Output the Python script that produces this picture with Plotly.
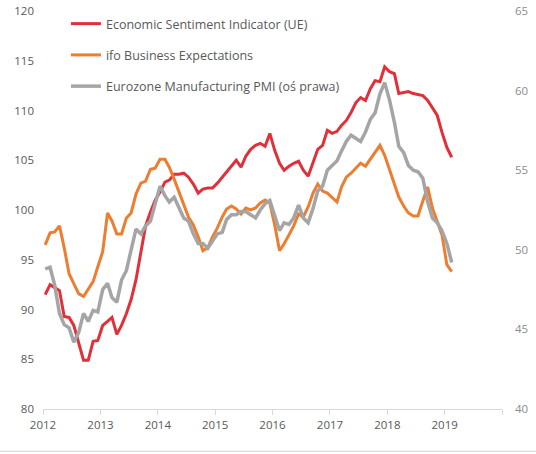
import pandas as pd
import plotly.graph_objects as go

# monthly data, Jan 2012 - Feb 2019
months = pd.date_range("2012-01-01", periods=86, freq="MS") + pd.Timedelta(days=14)

esi = [91.5, 92.5, 92.2, 91.9, 89.3, 89.2, 88.4, 86.5, 84.9, 84.9, 86.8, 86.9,
       88.4, 88.8, 89.2, 87.5, 88.4, 89.6, 91.0, 93.0, 95.8, 98.4, 99.8, 101.0,
       101.8, 102.8, 103.0, 103.6, 103.6, 103.7, 103.3, 102.6, 101.7, 102.1, 102.2, 102.2,
       102.7, 103.3, 103.9, 104.4, 105.0, 104.3, 105.4, 106.1, 106.5, 106.7, 106.4, 107.7,
       106.0, 104.7, 104.0, 104.4, 104.7, 104.9, 104.0, 103.4, 104.7, 106.1, 106.5, 108.0,
       107.7, 107.9, 108.5, 109.0, 109.8, 110.8, 111.3, 111.0, 112.2, 113.0, 112.9, 114.4,
       113.9, 113.7, 111.7, 111.8, 111.9, 111.7, 111.6, 111.5, 111.0, 110.3, 109.5, 107.8,
       106.3, 105.3]

ifo = [96.5, 97.7, 97.8, 98.4, 96.2, 93.6, 92.6, 91.6, 91.3, 92.1, 92.8, 94.3,
       95.8, 99.7, 98.9, 97.6, 97.6, 99.2, 99.7, 101.6, 102.7, 102.9, 104.1, 104.2,
       105.1, 105.1, 104.3, 103.1, 101.8, 100.6, 99.3, 98.5, 97.3, 95.9, 96.2, 97.3,
       98.2, 99.3, 100.1, 100.4, 100.1, 99.6, 100.2, 100.0, 100.2, 100.7, 101.0, 100.7,
       98.5, 95.9, 96.6, 97.5, 98.4, 99.6, 99.3, 100.3, 101.7, 102.6, 101.9, 101.7,
       101.2, 100.8, 102.3, 103.3, 103.7, 104.2, 104.7, 104.4, 105.1, 105.9, 106.5, 105.5,
       104.0, 102.5, 101.3, 100.4, 99.7, 99.4, 99.4, 100.9, 102.3, 100.2, 98.8, 97.5,
       94.5, 93.8]

pmi = [48.8, 48.9, 47.8, 46.0, 45.3, 45.1, 44.2, 44.8, 46.0, 45.5, 46.2, 46.1,
       47.5, 47.9, 47.0, 46.7, 48.1, 48.7, 50.0, 51.3, 51.0, 51.5, 51.8, 52.8,
       54.0, 53.4, 53.0, 53.3, 52.7, 52.0, 51.8, 51.0, 50.4, 50.4, 50.1, 50.5,
       51.0, 51.1, 51.9, 52.2, 52.2, 52.4, 52.4, 52.2, 52.0, 52.5, 52.9, 53.1,
       52.2, 51.2, 51.7, 51.6, 52.0, 52.8, 52.0, 51.7, 52.6, 53.7, 54.0, 55.0,
       55.3, 55.6, 56.2, 56.8, 57.2, 57.0, 56.8, 57.4, 58.2, 58.6, 59.8, 60.5,
       59.4, 58.0, 56.5, 56.1, 55.3, 55.0, 54.9, 54.5, 53.0, 52.0, 51.7, 51.2,
       50.4, 49.2]

years = [str(y) for y in range(2012, 2021)]
year_labels = years[:-1] + [""]

RED = "#E0303A"
ORANGE = "#ED7D31"
GRAY = "#A5A5A5"
FONT = "Open Sans"

fig = go.Figure()
fig.add_trace(go.Scatter(x=months, y=esi, name="Economic Sentiment Indicator (UE)",
                         mode="lines", line={"color": RED, "width": 3}, legendgroup="a"))
fig.add_trace(go.Scatter(x=months, y=ifo, name="ifo Business Expectations",
                         mode="lines", line={"color": ORANGE, "width": 3}, legendgroup="b"))
fig.add_trace(go.Scatter(x=months, y=pmi, name="Eurozone Manufacturing PMI (oś prawa)",
                         mode="lines", line={"color": GRAY, "width": 3.5}, legendgroup="c",
                         yaxis="y2"))

fig.update_layout(
    width=536, height=454,
    margin={"l": 43, "r": 34, "t": 11, "b": 45, "autoexpand": False},
    paper_bgcolor="white", plot_bgcolor="white",
    font={"family": FONT, "color": "#595959", "size": 11.5},
    showlegend=True,
    legend={"x": 0.05, "y": 1.005, "xanchor": "left", "yanchor": "top",
            "bgcolor": "rgba(0,0,0,0)", "font": {"size": 12.5, "color": "#595959"},
            "tracegroupgap": 12, "itemwidth": 30},
    xaxis={"type": "date", "range": ["2012-01-01", "2020-01-01"], "automargin": False,
           "tickvals": [y + "-01-01" for y in years], "ticktext": year_labels,
           "showgrid": False, "showline": True, "linecolor": "#D9D9D9", "linewidth": 1,
           "ticks": "outside", "ticklen": 5, "tickcolor": "#D9D9D9", "zeroline": False},
    yaxis={"range": [80, 120], "dtick": 5, "showgrid": False, "zeroline": False,
           "showline": False, "ticks": "", "ticklabelstandoff": 8, "automargin": False},
    yaxis2={"range": [40, 65], "dtick": 5, "overlaying": "y", "side": "right",
            "showgrid": False, "zeroline": False, "showline": False, "automargin": False,
            "tickfont": {"color": "#8C8C8C"}, "ticklabelstandoff": 12},
)

# faint frame line along the bottom of the picture
fig.add_shape(type="line", xref="paper", yref="paper", x0=-0.1, x1=1.1, y0=-0.106, y1=-0.106,
              line={"color": "#D0D0D0", "width": 1})

# drop the default page margin so the figure fills the window exactly
fig.write_html("out.html", config={"displayModeBar": False},
               post_script="document.body.style.margin = '0';")
